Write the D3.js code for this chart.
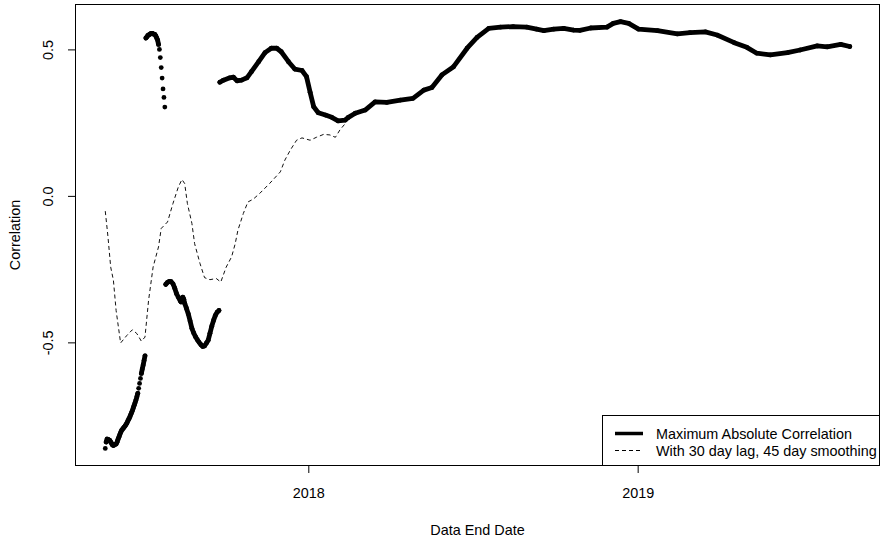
<!DOCTYPE html>
<html><head><meta charset="utf-8">
<script src="https://cdn.jsdelivr.net/npm/d3@7"></script>
<style>
body{margin:0;background:#fff}
svg{display:block}
text{font-family:"Liberation Sans",Arial,sans-serif;fill:#000}
</style>
</head><body>
<svg id="chart" width="888" height="538"></svg>
<script>
// ---- Data ----
const mainDates = [
"2017-05-21","2017-05-22","2017-05-23","2017-05-24","2017-05-25","2017-05-26","2017-05-27","2017-05-28","2017-05-29","2017-05-30","2017-05-31",
"2017-06-01","2017-06-02","2017-06-03","2017-06-04","2017-06-05","2017-06-06","2017-06-07","2017-06-08","2017-06-09","2017-06-10",
"2017-06-11","2017-06-12","2017-06-13","2017-06-14","2017-06-15","2017-06-16","2017-06-17","2017-06-18","2017-06-19","2017-06-20",
"2017-06-21","2017-06-22","2017-06-23","2017-06-24","2017-06-25","2017-06-26","2017-06-27","2017-06-28","2017-06-29","2017-06-30",
"2017-07-01","2017-07-02","2017-07-03","2017-07-04",
"2017-07-05","2017-07-06","2017-07-07","2017-07-08","2017-07-09","2017-07-10","2017-07-11","2017-07-12","2017-07-13","2017-07-14",
"2017-07-15","2017-07-16","2017-07-17","2017-07-18","2017-07-19","2017-07-20","2017-07-21","2017-07-22","2017-07-23","2017-07-24",
"2017-07-25","2017-07-26",
"2017-07-27","2017-07-29","2017-07-31","2017-08-02","2017-08-04","2017-08-06","2017-08-08","2017-08-10","2017-08-12","2017-08-13",
"2017-08-14","2017-08-15","2017-08-16","2017-08-17","2017-08-19","2017-08-21","2017-08-23","2017-08-25","2017-08-27","2017-08-29",
"2017-08-31","2017-09-02","2017-09-04","2017-09-06","2017-09-08","2017-09-10","2017-09-12","2017-09-14","2017-09-16","2017-09-18",
"2017-09-20","2017-09-22","2017-09-24",
"2017-09-25","2017-09-29","2017-10-06","2017-10-10","2017-10-14","2017-10-19","2017-10-25","2017-10-30","2017-11-07","2017-11-14",
"2017-11-21","2017-11-27","2017-12-02","2017-12-10","2017-12-17","2017-12-25","2017-12-30","2018-01-03","2018-01-07","2018-01-12",
"2018-01-20","2018-01-27","2018-02-03","2018-02-11","2018-02-14","2018-02-22","2018-03-05","2018-03-16","2018-03-29","2018-04-13",
"2018-04-27","2018-05-09","2018-05-18","2018-05-29","2018-06-11","2018-06-26","2018-07-07","2018-07-20","2018-08-02","2018-08-16",
"2018-08-31","2018-09-11","2018-09-19","2018-09-30","2018-10-11","2018-10-22","2018-10-29","2018-11-10","2018-11-28","2018-12-05",
"2018-12-13","2018-12-22","2019-01-02","2019-01-23","2019-02-14","2019-02-28","2019-03-17","2019-03-30","2019-04-18","2019-05-02",
"2019-05-13","2019-05-28","2019-06-16","2019-06-30","2019-07-19","2019-07-30","2019-08-14","2019-08-24"
];
const mainValues = [
-0.862,-0.840,-0.830,-0.831,-0.833,-0.835,-0.840,-0.845,-0.850,-0.852,-0.850,
-0.848,-0.847,-0.841,-0.832,-0.824,-0.816,-0.808,-0.801,-0.797,-0.793,
-0.789,-0.785,-0.780,-0.775,-0.768,-0.762,-0.756,-0.748,-0.741,-0.733,
-0.724,-0.715,-0.706,-0.697,-0.686,-0.674,-0.657,-0.640,-0.623,-0.606,
-0.591,-0.577,-0.562,-0.546,
0.539,0.542,0.547,0.549,0.551,0.553,0.555,0.555,0.553,0.552,
0.551,0.546,0.539,0.532,0.517,0.500,0.472,0.438,0.402,0.365,
0.336,0.303,
-0.302,-0.295,-0.292,-0.293,-0.300,-0.315,-0.334,-0.346,-0.358,-0.362,
-0.355,-0.346,-0.353,-0.367,-0.384,-0.403,-0.427,-0.452,-0.468,-0.481,
-0.491,-0.500,-0.508,-0.514,-0.512,-0.503,-0.493,-0.469,-0.445,-0.425,
-0.408,-0.397,-0.391,
0.388,0.395,0.403,0.405,0.393,0.395,0.403,0.424,0.458,0.489,
0.504,0.504,0.492,0.458,0.433,0.428,0.407,0.354,0.304,0.284,
0.276,0.268,0.256,0.259,0.267,0.282,0.293,0.321,0.319,0.327,
0.333,0.361,0.370,0.413,0.441,0.504,0.541,0.572,0.576,0.578,
0.576,0.569,0.564,0.569,0.572,0.566,0.565,0.573,0.576,0.589,
0.595,0.589,0.569,0.564,0.553,0.557,0.560,0.549,0.523,0.507,
0.487,0.481,0.489,0.498,0.512,0.509,0.517,0.510
];
const lagDates = [
"2017-05-21","2017-05-24","2017-05-27","2017-05-30","2017-06-02","2017-06-07","2017-06-14","2017-06-20","2017-06-25","2017-06-30",
"2017-07-04","2017-07-08","2017-07-13","2017-07-19","2017-07-22","2017-07-29","2017-08-04","2017-08-10","2017-08-14","2017-08-17",
"2017-08-20","2017-08-25","2017-08-28","2017-09-03","2017-09-08","2017-09-14","2017-09-21","2017-09-26","2017-10-02","2017-10-08",
"2017-10-12","2017-10-15","2017-10-21","2017-10-26","2017-11-01","2017-11-08","2017-11-19","2017-12-01","2017-12-06","2017-12-12",
"2017-12-19","2017-12-25","2018-01-03","2018-01-10","2018-01-18","2018-01-25","2018-01-31","2018-02-05","2018-02-11"
];
const lagValues = [
-0.052,-0.140,-0.243,-0.288,-0.391,-0.502,-0.476,-0.457,-0.470,-0.496,
-0.482,-0.356,-0.243,-0.174,-0.111,-0.089,-0.026,0.031,0.056,0.042,
-0.026,-0.094,-0.163,-0.231,-0.279,-0.286,-0.282,-0.294,-0.243,-0.208,
-0.163,-0.117,-0.060,-0.021,-0.011,0.008,0.042,0.082,0.122,0.156,
0.190,0.198,0.190,0.200,0.210,0.208,0.200,0.225,0.247
];
const yTickValues = [-0.5, 0, 0.5];
const yTickLabels = ["-0.5", "0.0", "0.5"];
const xTickLabels = ["2018", "2019"];
const legendLabels = ["Maximum Absolute Correlation", "With 30 day lag, 45 day smoothing"];
const xTitle = "Data End Date";
const yTitle = "Correlation";

// ---- Layout ----
const L = 75.5, R = 879.5, T = 4.5, B = 465.5;
const FS = "14.4px";
const parse = d3.timeParse("%Y-%m-%d");
const main = mainDates.map((d, i) => ({date: parse(d), value: mainValues[i]}));
const lag = lagDates.map((d, i) => ({date: parse(d), value: lagValues[i]}));

const all = main.concat(lag);
const tExt = d3.extent(all, d => +d.date);
const vExt = d3.extent(all, d => d.value);
const tPad = (tExt[1] - tExt[0]) * 0.04, vPad = (vExt[1] - vExt[0]) * 0.04;
const x = d3.scaleTime().domain([new Date(tExt[0] - tPad), new Date(tExt[1] + tPad)]).range([L, R]);
const y = d3.scaleLinear().domain([vExt[0] - vPad, vExt[1] + vPad]).range([B, T]);

const svg = d3.select("#chart");
svg.append("rect").attr("width", 888).attr("height", 538).attr("fill", "#fff");

// dashed lagged series
svg.append("path").datum(lag)
  .attr("fill", "none").attr("stroke", "#111").attr("stroke-width", 1)
  .attr("stroke-dasharray", "4,3")
  .attr("d", d3.line().x(d => x(d.date)).y(d => y(d.value)));

// main series: points, joined where consecutive daily dots would overlap
const runs = [];
let cur = [main[0]];
for (let i = 1; i < main.length; i++) {
  const a = main[i - 1], b = main[i];
  const days = (b.date - a.date) / 864e5;
  const dy = Math.abs(y(b.value) - y(a.value)) / days;
  if (dy <= 4.75) cur.push(b); else { runs.push(cur); cur = [b]; }
}
runs.push(cur);
const line = d3.line().x(d => x(d.date)).y(d => y(d.value));
svg.append("g").selectAll("path").data(runs.filter(r => r.length > 1)).join("path")
  .attr("fill", "none").attr("stroke", "#000").attr("stroke-width", 4.8)
  .attr("stroke-linejoin", "round").attr("stroke-linecap", "round")
  .attr("d", line);
svg.append("g").selectAll("circle").data(main).join("circle")
  .attr("cx", d => x(d.date)).attr("cy", d => y(d.value)).attr("r", 2.4).attr("fill", "#000");

// axes
const xTickDates = x.ticks(d3.timeYear);
const gx = svg.append("g").attr("transform", `translate(0,${B})`)
  .call(d3.axisBottom(x).tickValues(xTickDates).tickFormat((d, i) => xTickLabels[i])
    .tickSize(7.5).tickPadding(14.5).tickSizeOuter(0));
gx.select(".domain").remove();
gx.selectAll("text").attr("font-size", FS).attr("font-family", "Liberation Sans, Arial, sans-serif");
gx.selectAll("line").attr("stroke", "#000");

const gy = svg.append("g").attr("transform", `translate(${L},0)`)
  .call(d3.axisLeft(y).tickValues(yTickValues).tickFormat((d, i) => yTickLabels[i])
    .tickSize(7.5).tickSizeOuter(0));
gy.select(".domain").remove();
gy.selectAll("line").attr("stroke", "#000");
gy.selectAll("text")
  .attr("x", null).attr("dy", null).attr("y", 0)
  .attr("text-anchor", "middle")
  .attr("transform", "translate(-23,0) rotate(-90)")
  .attr("font-size", FS).attr("font-family", "Liberation Sans, Arial, sans-serif");

// plot box
svg.append("rect").attr("x", L).attr("y", T).attr("width", R - L).attr("height", B - T)
  .attr("fill", "none").attr("stroke", "#000").attr("stroke-width", 1);

// titles
svg.append("text").attr("x", (L + R) / 2).attr("y", 535).attr("text-anchor", "middle")
  .attr("font-size", FS).text(xTitle);
svg.append("text").attr("transform", `translate(20,${(T + B) / 2}) rotate(-90)`)
  .attr("text-anchor", "middle").attr("font-size", FS).text(yTitle);

// legend
const lg = svg.append("g");
lg.append("rect").attr("x", 602.5).attr("y", 415.5).attr("width", R - 602.5).attr("height", B - 415.5)
  .attr("fill", "#fff").attr("stroke", "#000").attr("stroke-width", 1);
const legendStyles = [{w: 3.5, dash: null}, {w: 1, dash: "4,3"}];
legendLabels.forEach((lab, i) => {
  const ly = 433.5 + i * 17;
  lg.append("line").attr("x1", 615).attr("x2", 643).attr("y1", ly).attr("y2", ly)
    .attr("stroke", "#000").attr("stroke-width", legendStyles[i].w)
    .attr("stroke-dasharray", legendStyles[i].dash);
  lg.append("text").attr("x", 656).attr("y", ly + 5.5).attr("font-size", FS).text(lab);
});
</script>
</body></html>
